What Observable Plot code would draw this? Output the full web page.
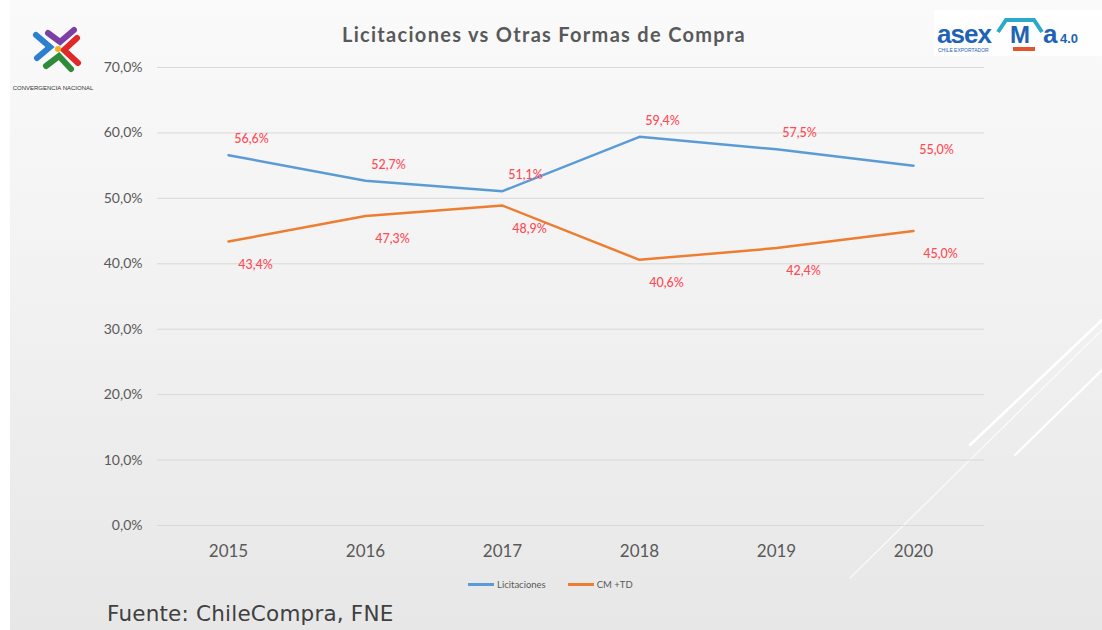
<!DOCTYPE html>
<html>
<head>
<meta charset="utf-8">
<script src="https://cdn.jsdelivr.net/npm/d3@7"></script>
<script src="https://cdn.jsdelivr.net/npm/@observablehq/plot@0.6"></script>
<style>
  html, body { margin: 0; padding: 0; background: #ffffff; }
  #slide { position: relative; width: 1092px; height: 630px; margin-left: 10px; overflow: hidden;
    background: linear-gradient(180deg, #fafafa 0%, #f2f2f2 45%, #e7e7e7 100%); }
  #chart { position: absolute; left: -10px; top: 0; }
  .title { position: absolute; left: 0; width: 1092px; top: 22px; text-align: center;
    font-family: Lato, "Open Sans", sans-serif; font-weight: 700; font-size: 20px; letter-spacing: 1.3px; color: #595959; }
  .title span { position: relative; left: -12px; }
  .legend { position: absolute; top: 579px; left: 458px; font-family: Lato, sans-serif; font-size: 9.5px; color: #595959; display: flex; align-items: center; }
  .legend .sw { display: inline-block; width: 26px; height: 3px; margin-right: 3px; }
  .legend .item { display: flex; align-items: center; margin-right: 14px; }
  .caption { position: absolute; left: 97px; top: 601px; font-family: "DejaVu Sans", sans-serif; font-size: 21.5px; line-height: 26px; color: #404040; letter-spacing: 0.2px; }
  .deco { position: absolute; left: 0; top: 0; }
</style>
</head>
<body>
<div id="slide">
  <svg class="deco" width="1092" height="630">
    <g stroke="#ffffff" stroke-linecap="round">
      <line x1="960" y1="445" x2="1092" y2="320" stroke-width="2.5"/>
      <line x1="1005" y1="455" x2="1092" y2="370" stroke-width="2"/>
      <line x1="840" y1="578" x2="1092" y2="330" stroke-width="1.2" opacity="0.8"/>
    </g>
    <!-- left logo -->
    <g stroke-width="6" stroke-linecap="round" fill="none">
      <polyline points="26,35 40,47 27,58" stroke="#2f7fd0"/>
      <polyline points="38,33 50,42 64,30" stroke="#7b3fa6"/>
      <polyline points="67,38 54,50 68,63" stroke="#e02828"/>
      <polyline points="36,66 49,56 61,69" stroke="#2e8b3a"/>
    </g>
    <circle cx="48" cy="49" r="3" fill="#f2b01e"/>
    <text x="43" y="90" text-anchor="middle" font-family="Liberation Sans" font-size="6" fill="#333">CONVERGENCIA NACIONAL</text>
    <!-- right logo -->
    <rect x="924" y="10" width="168" height="46" fill="#ffffff" opacity="0.85"/>
    <text x="927" y="43" font-family="Liberation Sans" font-weight="700" font-size="26" fill="#1f63b5" letter-spacing="-1">asex</text>
    <text x="1000" y="43" font-family="Liberation Sans" font-weight="700" font-size="24" fill="#1f63b5">M</text>
    <polyline points="988,32 996,20 1024,20 1032,32" stroke="#2aa9c9" stroke-width="4" fill="none"/>
    <text x="1033" y="43" font-family="Liberation Sans" font-weight="700" font-size="26" fill="#1f63b5">a</text>
    <text x="1050" y="43" font-family="Liberation Sans" font-weight="700" font-size="13" fill="#1f63b5">4.0</text>
    <rect x="1003" y="47" width="22" height="4" fill="#e8542a"/>
    <text x="928" y="52" font-family="Liberation Sans" font-size="5" fill="#1f63b5">CHILE EXPORTADOR</text>
  </svg>
  <div class="title"><span>Licitaciones vs Otras Formas de Compra</span></div>
  <div id="chart"></div>
  <div class="legend">
    <div class="item"><span class="sw" style="background:#5B9BD5"></span>Licitaciones</div>
    <div class="item" style="margin-left:8px"><span class="sw" style="background:#ED7D31"></span>CM +TD</div>
  </div>
  <div class="caption">Fuente: ChileCompra, FNE</div>
</div>
<script>
const years = ["2015", "2016", "2017", "2018", "2019", "2020"];
const licitaciones = [56.6, 52.7, 51.1, 59.4, 57.5, 55.0];
const cmTd = [43.4, 47.3, 48.9, 40.6, 42.4, 45.0];
const yTicks = [0, 10, 20, 30, 40, 50, 60, 70];

const seriesNames = ["Licitaciones", "CM +TD"];
const colors = ["#5B9BD5", "#ED7D31"];

const rows = [];
years.forEach((y, i) => {
  rows.push({year: y, value: licitaciones[i], serie: seriesNames[0]});
  rows.push({year: y, value: cmTd[i], serie: seriesNames[1]});
});
const lic = rows.filter(d => d.serie === seriesNames[0]);
const cm = rows.filter(d => d.serie === seriesNames[1]);
const fmt = v => v.toFixed(1).replace(".", ",") + "%";

const chart = Plot.plot({
  width: 1102,
  height: 630,
  marginLeft: 157,
  marginRight: 118,
  marginTop: 67,
  marginBottom: 105,
  style: {background: "transparent", fontFamily: "Lato, 'Open Sans', sans-serif", overflow: "visible"},
  x: {type: "point", domain: years, padding: 0.5},
  y: {domain: [0, 70]},
  color: {domain: seriesNames, range: colors},
  marks: [
    Plot.ruleY(yTicks, {stroke: "#d9d9d9", strokeWidth: 1}),
    Plot.axisY({ticks: yTicks, tickSize: 0, tickPadding: 15, tickFormat: fmt, fontSize: 14, fill: "#595959", label: null}),
    Plot.axisX({tickSize: 0, tickPadding: 19, fontSize: 17, fill: "#595959", label: null}),
    Plot.line(rows, {x: "year", y: "value", z: "serie", stroke: "serie", strokeWidth: 2.5}),
    Plot.text(lic, {x: "year", y: "value", text: d => fmt(d.value), dx: 23, dy: -16, fill: "#ff4a55", fontSize: 12.5, fontWeight: 500}),
    Plot.text(cm, {x: "year", y: "value", text: d => fmt(d.value), dx: 27, dy: 23, fill: "#ff4a55", fontSize: 12.5, fontWeight: 500})
  ]
});
document.getElementById("chart").appendChild(chart);
</script>
</body>
</html>
